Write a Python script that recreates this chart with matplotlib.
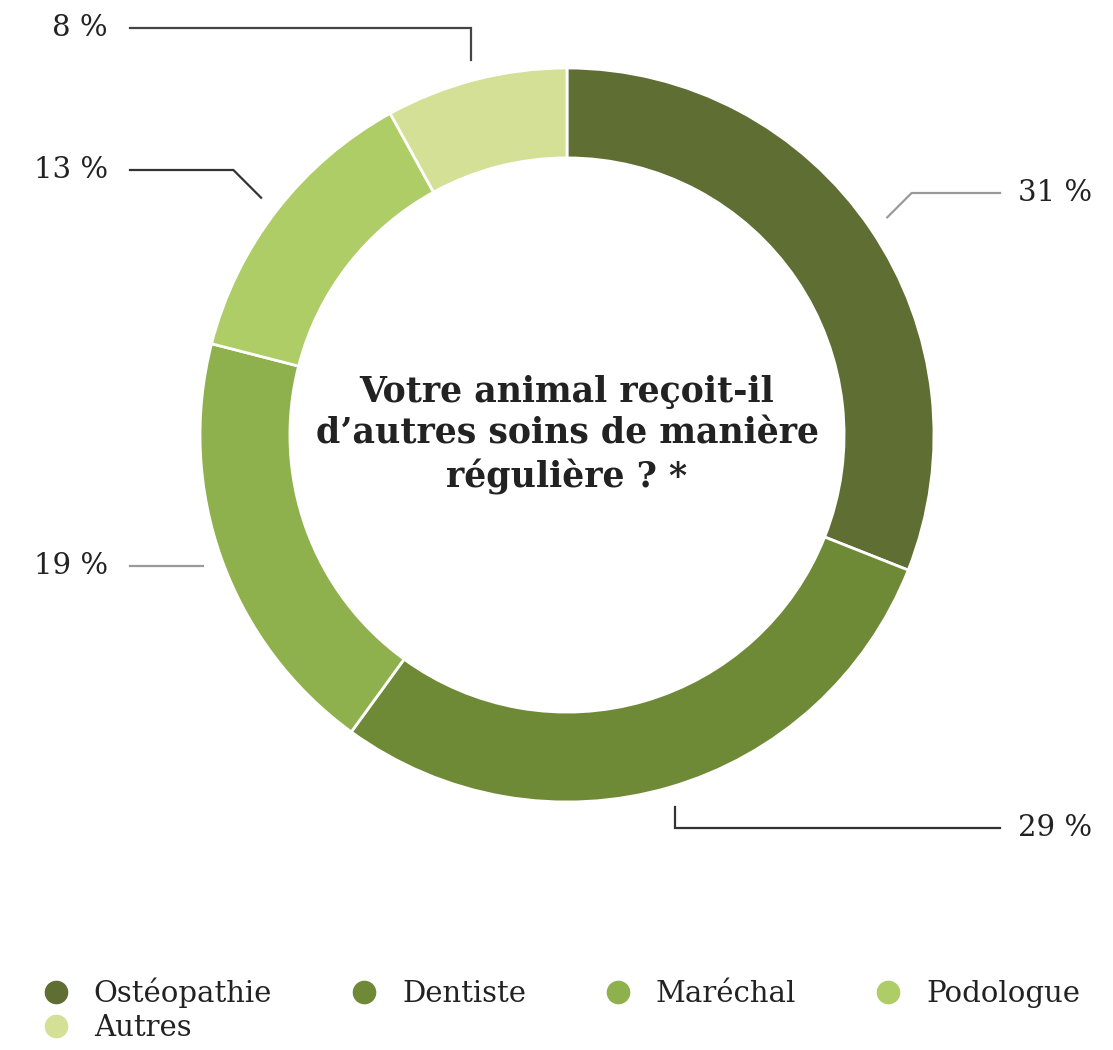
"""Donut chart: other regular care received by the animal."""

import numpy as np
import matplotlib
matplotlib.use("Agg")
import matplotlib.pyplot as plt
from matplotlib.lines import Line2D

plt.rcParams.update({
    "font.family": "DejaVu Serif",
    "text.color": "#222222",
})

# data
categories = ["Ostéopathie", "Dentiste", "Maréchal", "Podologue", "Autres"]
values = [31, 29, 19, 13, 8]
colors = ["#5f6e33", "#6f8a37", "#8fb14d", "#aecd66", "#d3e096"]

# label layout (pixel-ish coords, y up); None -> keep leader flat
label_y = [857, 222, None, 880, 1022]
elbow = ["diag", "vert", "flat", "diag", "vert"]
line_colors = ["#9a9a9a", "#333333", "#9a9a9a", "#333333", "#444444"]

W, H = 1113, 1050
CX, CY, R = 567, 615, 367


def main() -> None:
    fig = plt.figure(figsize=(W / 100, H / 100), dpi=100)
    ax = fig.add_axes([0, 0, 1, 1])

    wedges, _ = ax.pie(
        values, colors=colors, startangle=90, counterclock=False,
        center=(CX, CY), radius=R, frame=True,
        wedgeprops=dict(width=R * 0.245, edgecolor="white", linewidth=2),
    )
    ax.set_xlim(0, W)
    ax.set_ylim(0, H)
    ax.set_aspect("equal")
    ax.axis("off")

    for w, v, ly, kind, lc in zip(wedges, values, label_y, elbow, line_colors):
        mid = np.deg2rad((w.theta1 + w.theta2) / 2)
        sx = CX + R * 1.055 * np.cos(mid)
        sy = CY + R * 1.055 * np.sin(mid)
        right = np.cos(mid) > 0
        sign = 1 if right else -1
        if kind == "flat" or ly is None:
            ly = sy
        ex = sx + (abs(ly - sy) * sign if kind == "diag" else 0)
        end_x = 1000 if right else 130
        ax.plot([sx, ex, end_x], [sy, ly, ly], color=lc, lw=1.6,
                solid_joinstyle="miter")
        ax.text(1018 if right else 108, ly, f"{v} %",
                ha="left" if right else "right", va="center", fontsize=21)

    ax.text(CX, CY,
            "Votre animal reçoit-il\nd’autres soins de manière\nrégulière ? *",
            ha="center", va="center", fontsize=25, fontweight="bold",
            linespacing=1.3)

    handles = [Line2D([], [], marker="o", ls="", markersize=16,
                      markerfacecolor=c, markeredgecolor=c) for c in colors]
    # column-major fill -> reorder so rows read left to right
    order = [0, 4, 1, 2, 3]
    fig.legend([handles[i] for i in order], [categories[i] for i in order],
               ncol=4, loc="upper left", bbox_to_anchor=(0.024, 0.083),
               frameon=False, fontsize=21, handletextpad=0.8,
               columnspacing=2.65, labelspacing=0.2, borderpad=0,
               handlelength=1.0)

    fig.savefig("out.png", dpi=100)
    plt.close(fig)


if __name__ == "__main__":
    main()
